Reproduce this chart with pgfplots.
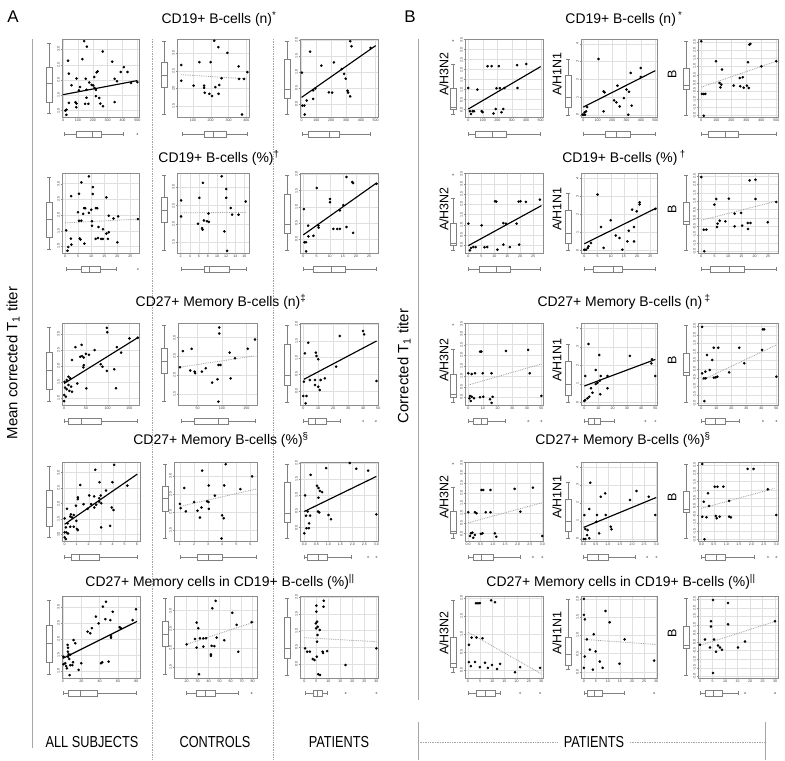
\documentclass[border=0pt]{standalone}
\usepackage{pgfplots}
\pgfplotsset{compat=1.18}
\usepgfplotslibrary{statistics}
\usepackage{fontspec}
\setmainfont{Liberation Sans}
\newfontfamily\narrowfont[FakeStretch=0.8]{Liberation Sans}
\definecolor{fr}{gray}{0.55}
\definecolor{gr}{gray}{0.88}
\definecolor{bxc}{gray}{0.5}
\pgfplotsset{
  q/.style n args={5}{/pgfplots/boxplot/lower whisker=#1,/pgfplots/boxplot/lower quartile=#2,/pgfplots/boxplot/median=#3,/pgfplots/boxplot/upper quartile=#4,/pgfplots/boxplot/upper whisker=#5},
  panel/.style={scale only axis, anchor=north west, axis line style={fr,line width=.45pt},
    grid=major, grid style={gr,line width=.35pt}, tick style={fr,line width=.3pt},
    major tick length=1.3bp, tick align=outside, xtick pos=bottom, ytick pos=left,
    tick label style={font=\fontsize{3.6}{4}\selectfont, text=black!75, inner sep=0.8bp},
    yticklabel style={rotate=90, anchor=south},
    scaled ticks=false,
    yticklabel={\pgfmathprintnumber[fixed,fixed zerofill,precision=1,assume math mode=true]{\tick}},
    xticklabel={\pgfmathprintnumber[fixed,assume math mode=true]{\tick}}},
  dx/.style={xticklabel={\pgfmathprintnumber[fixed,fixed zerofill,precision=1,assume math mode=true]{\tick}}},
  iy/.style={yticklabel={\pgfmathprintnumber[fixed,precision=0,assume math mode=true]{\tick}}},
  vbp/.style={scale only axis, anchor=north, width=7bp, xmin=-0.5, xmax=0.5, hide axis, clip=false},
  hbp/.style={scale only axis, anchor=west, height=7bp, ymin=-0.5, ymax=0.5, hide axis, clip=false},
  bx/.style={draw=bxc, fill=white, line width=.4pt, mark=o, mark size=0.8bp, mark options={bxc,line width=.3pt}},
  pts/.style={only marks, mark=*, mark size=1.1bp, black},
  fit/.style={black, line width=1.15bp},
  nfit/.style={gray!75, densely dotted, line width=.8bp},
}
\newcommand\VB[7]{\begin{axis}[vbp,at={(#1bp,-#2bp)},height=#3bp,ymin=#4,ymax=#5]
\addplot[bx,boxplot prepared={draw direction=y,draw position=0,box extend=0.8,whisker extend=0.45,/pgfplots/q=#6}] coordinates {#7};
\end{axis}}
\newcommand\HB[7]{\begin{axis}[hbp,at={(#1bp,-#2bp)},width=#3bp,xmin=#4,xmax=#5]
\addplot[bx,boxplot prepared={draw direction=x,draw position=0,box extend=0.8,whisker extend=0.45,/pgfplots/q=#6}] coordinates {#7};
\end{axis}}
\tikzset{ttl/.style={font=\fontsize{14}{14}\selectfont, inner sep=0pt},
  yl/.style={font=\fontsize{12.5}{12.5}\selectfont, rotate=90, inner sep=0pt},
  bl/.style={font=\narrowfont\fontsize{16}{16}\selectfont, inner sep=0pt}}
\begin{document}
\begin{tikzpicture}
\fill[white] (0,0) rectangle (785bp,-761bp);
\path[use as bounding box] (0,0) rectangle (785bp,-761bp);
% ---------- frame texts and separators ----------
\node[font=\fontsize{17}{17}\selectfont, inner sep=0pt] at (13bp,-17bp) {A};
\node[font=\fontsize{17}{17}\selectfont, inner sep=0pt] at (410bp,-17bp) {B};
\node[font=\fontsize{15}{15}\selectfont, rotate=90, inner sep=0pt] at (13bp,-363bp) {Mean corrected T\textsubscript{1} titer};
\node[font=\fontsize{15}{15}\selectfont, rotate=90, inner sep=0pt] at (404bp,-366bp) {Corrected T\textsubscript{1} titer};
\draw[gray!70, line width=.8pt] (32bp,-39bp) -- (32bp,-748bp);
\draw[gray!70, densely dotted, line width=.7pt] (152bp,-39bp) -- (152bp,-760bp);
\draw[gray!70, densely dotted, line width=.7pt] (273bp,-39bp) -- (273bp,-760bp);
\draw[gray!70, line width=.8pt] (418bp,-39bp) -- (418bp,-700bp);
\draw[gray!70, line width=.8pt] (418bp,-722bp) -- (418bp,-760bp);
\draw[gray!70, line width=.8pt] (765bp,-722bp) -- (765bp,-760bp);
\draw[gray!70, densely dotted, line width=.7pt] (418bp,-742bp) -- (558bp,-742bp);
\draw[gray!70, densely dotted, line width=.7pt] (630bp,-742bp) -- (765bp,-742bp);
\node[bl] at (92bp,-742bp) {ALL SUBJECTS};
\node[bl] at (215bp,-742bp) {CONTROLS};
\node[bl] at (339bp,-742bp) {PATIENTS};
\node[bl] at (594bp,-742bp) {PATIENTS};
% titles
\node[ttl] at (219bp,-19bp) {CD19+ B-cells (n)\textsuperscript{*}};
\node[ttl] at (624bp,-19bp) {CD19+ B-cells (n)\,\textsuperscript{*}};
\node[ttl] at (219bp,-158bp) {CD19+ B-cells (\%)\textsuperscript{†}};
\node[ttl] at (624bp,-158bp) {CD19+ B-cells (\%)\,\textsuperscript{†}};
\node[ttl] at (221bp,-302bp) {CD27+ Memory B-cells (n)\textsuperscript{‡}};
\node[ttl] at (624bp,-302bp) {CD27+ Memory B-cells (n)\,\textsuperscript{‡}};
\node[ttl] at (221bp,-440bp) {CD27+ Memory B-cells (\%)\textsuperscript{§}};
\node[ttl] at (623bp,-440bp) {CD27+ Memory B-cells (\%)\textsuperscript{§}};
\node[ttl] at (220bp,-582bp) {CD27+ Memory cells in CD19+ B-cells (\%)\textsuperscript{||}};
\node[ttl] at (621bp,-582bp) {CD27+ Memory cells in CD19+ B-cells (\%)\textsuperscript{||}};
% B y labels
\foreach \yy in {74,209,360,497,633} {
  \node[yl] at (444bp,-\yy bp) {A/H3N2};
  \node[yl] at (557bp,-\yy bp) {A/H1N1};
  \node[yl] at (672bp,-\yy bp) {B};
}
% ================= ROW 1 =================
\begin{axis}[panel, at={(62bp,-39bp)}, width=77bp, height=78bp, xmin=-7, xmax=511, ymin=0.79, ymax=3.34, xtick={0,100,...,500}, ytick={1,1.5,...,3}]
\addplot[pts] coordinates {(142,3.27)(160,3.09)(267,2.93)(34,2.63)(130,2.68)(331,2.60)(409,2.42)(233,2.28)(39,2.21)(91,2.05)(153,2.04)(210,2.10)(226,2.25)(347,2.04)(363,1.96)(388,2.26)(434,2.26)(500,1.93)(457,1.90)(57,1.83)(114,1.77)(176,1.92)(192,1.84)(203,1.82)(212,1.74)(221,1.68)(158,1.68)(221,1.47)(244,1.41)(251,1.23)(269,1.14)(148,1.22)(171,1.22)(84,1.27)(91,1.23)(89,1.11)(39,1.25)(23,1.03)(16,1.00)(23,0.86)(347,1.28)(158,1.42)(107,1.66)};
\addplot[fit] coordinates {(0,1.52)(500,1.98)};
\end{axis}
\VB{49}{39}{78}{0.79}{3.34}{{0.9}{1.28}{1.88}{2.42}{3.2}}{}
\HB{62}{134}{77}{-7}{511}{{5}{91}{199}{256}{404}}{(0,500)}
\begin{axis}[panel, at={(177bp,-39bp)}, width=72bp, height=78bp, xmin=11, xmax=415, ymin=1.2, ymax=3.39, xtick={100,200,300,400}, ytick={1.5,2,2.5,3}]
\addplot[pts] coordinates {(220,3.34)(243,3.16)(294,3.00)(137,2.74)(200,2.74)(35,2.66)(357,2.62)(406,2.46)(35,2.22)(261,2.29)(359,2.27)(387,2.27)(248,2.10)(104,2.08)(163,2.08)(163,2.02)(226,2.04)(167,1.88)(193,1.85)(244,1.85)(207,1.79)(376,1.27)};
\addplot[nfit] coordinates {(35,2.39)(406,2.27)};
\end{axis}
\VB{164}{39}{78}{1.2}{3.39}{{1.29}{2.04}{2.38}{2.73}{3.32}}{}
\HB{177}{134}{72}{11}{415}{{39}{163}{215}{289}{406}}{}
\begin{axis}[panel, at={(300bp,-39bp)}, width=78bp, height=78bp, xmin=-11, xmax=516, ymin=-0.42, ymax=2.04, xtick={0,100,...,500}, ytick={0,0.5,...,2}]
\addplot[pts] coordinates {(328,1.97)(337,1.81)(466,1.76)(57,1.64)(218,1.30)(133,1.20)(271,1.09)(287,0.94)(298,0.79)(2,0.98)(92,0.48)(78,0.42)(184,0.36)(206,0.35)(310,0.41)(314,0.35)(328,0.23)(78,0.15)(34,0.10)(18,-0.06)(5,-0.06)(21,-0.34)};
\addplot[fit] coordinates {(0,0.20)(500,1.83)};
\end{axis}
\VB{287}{39}{78}{-0.42}{2.04}{{-0.34}{0.18}{0.46}{1.40}{1.97}}{}
\HB{300}{134}{78}{-11}{516}{{2}{46}{184}{252}{466}}{}
% B row 1
\begin{axis}[panel, at={(465bp,-39bp)}, width=78bp, height=78bp, xmin=-23, xmax=516, ymin=-0.37, ymax=3.53, xtick={0,100,...,500}, ytick={0,0.5,...,3.5}]
\addplot[pts] coordinates {(133,2.17)(161,2.17)(211,2.17)(337,2.22)(401,2.28)(0,1.08)(62,1.00)(195,1.07)(218,1.07)(250,1.08)(340,1.08)(11,-0.08)(18,-0.22)(30,-0.08)(39,-0.08)(92,-0.08)(99,-0.13)(190,0.03)(174,-0.20)(241,0.03)(229,-0.13)};
\addplot[fit] coordinates {(0,0.03)(500,2.15)};
\end{axis}
\VB{453}{39}{78}{-0.37}{3.53}{{-0.22}{0}{0.13}{1.08}{2.28}}{(0,3.45)}
\HB{465}{134}{78}{-23}{516}{{0}{46}{168}{259}{500}}{}
\begin{axis}[panel, iy, at={(581bp,-39bp)}, width=76bp, height=78bp, xmin=-16, xmax=512, ymin=-0.13, ymax=4.28, xtick={0,100,...,500}, ytick={0,1,...,4}]
\addplot[pts] coordinates {(106,3.15)(329,2.36)(399,2.64)(399,2.13)(237,1.64)(141,1.32)(148,1.26)(300,1.42)(317,1.30)(282,0.94)(214,0.81)(230,0.70)(253,0.47)(336,0.51)(26,0.43)(9,0.13)(-5,0)(2,0)(12,0)(19,0.19)(141,0.19)(312,0)};
\addplot[fit] coordinates {(0,0.43)(500,2.49)};
\end{axis}
\VB{568}{39}{78}{-0.13}{4.28}{{0}{0.42}{0.98}{2.21}{3.15}}{}
\HB{581}{134}{76}{-16}{512}{{0}{155}{230}{324}{500}}{}
\begin{axis}[panel, at={(698bp,-39bp)}, width=80bp, height=78bp, xmin=-22, xmax=511, ymin=-2.09, ymax=2.68, xtick={0,100,...,500}, ytick={-2,-1.5,...,2.5}]
\addplot[pts] coordinates {(0,2.54)(98,1.32)(138,0.81)(327,2.38)(320,2.34)(311,1.26)(400,1.01)(500,1.32)(256,0.30)(276,0.34)(122,-0.01)(133,-0.11)(4,-0.68)(16,-0.68)(27,-0.68)(127,-0.28)(216,-0.17)(260,-0.21)(304,-0.17)(316,-0.32)(282,-0.30)(16,-2.01)};
\addplot[nfit] coordinates {(0,-0.26)(500,1.32)};
\end{axis}
\VB{686}{39}{78}{-2.09}{2.68}{{-1.95}{-0.38}{-0.17}{0.91}{2.54}}{}
\HB{698}{134}{80}{-22}{511}{{0}{49}{160}{249}{500}}{}
% ================= ROW 2 =================
\begin{axis}[panel, at={(62bp,-173bp)}, width=77bp, height=80bp, xmin=-1.2, xmax=28.3, ymin=0.79, ymax=3.34, xtick={0,5,...,25}, ytick={1,1.5,...,3}]
\addplot[pts] coordinates {(9.1,3.23)(6.2,3.04)(10.6,2.89)(2.3,2.60)(15.8,2.56)(10.6,2.67)(5.3,2.68)(7.3,2.22)(7.7,2.22)(6.9,2.04)(12.3,2.22)(11.8,2.22)(10.0,2.17)(4.9,2.09)(10.3,1.80)(10.3,1.66)(5.3,1.82)(6.2,1.82)(20.3,1.96)(18.5,1.89)(16.7,1.98)(27.9,1.87)(0.4,1.51)(14.5,1.55)(15.8,1.41)(16.7,1.45)(12.6,1.27)(13.8,1.24)(14.5,1.24)(11.7,1.24)(16.4,1.24)(20.0,1.13)(5.6,1.25)(5.9,1.22)(7.4,1.09)(2.2,1.25)(2.4,1.06)(1.2,0.98)(0.9,0.86)(9.1,2.07)(12.8,1.62)};
\addplot[nfit] coordinates {(0,1.75)(28,1.87)};
\end{axis}
\VB{49}{173}{80}{0.79}{3.34}{{0.9}{1.28}{1.88}{2.42}{3.2}}{}
\HB{62}{269}{77}{-1.2}{28.3}{{0.4}{6.2}{9.4}{13.6}{19.6}}{(0,27.9)}
\begin{axis}[panel, at={(177bp,-173bp)}, width=72bp, height=80bp, xmin=1.2, xmax=17, ymin=1.2, ymax=3.39, xtick={2,4,...,16}, ytick={1.5,2,2.5,3}]
\addplot[pts] coordinates {(11.0,3.30)(6.9,3.12)(12.0,2.95)(6.1,2.71)(12.0,2.71)(2.1,2.64)(16.3,2.61)(13.0,2.43)(2.1,2.20)(8.1,2.28)(13.3,2.25)(14.7,2.25)(7.1,2.09)(7.8,2.07)(8.2,2.05)(5.8,2.00)(6.7,1.88)(6.8,1.84)(11.6,1.79)(12.2,1.26)};
\addplot[nfit] coordinates {(2,2.30)(16.5,2.31)};
\end{axis}
\VB{164}{173}{80}{1.2}{3.39}{{1.29}{2.04}{2.38}{2.73}{3.32}}{}
\HB{177}{269}{72}{1.2}{17}{{2.1}{7.1}{8.2}{12.6}{16.3}}{}
\begin{axis}[panel, at={(300bp,-173bp)}, width=78bp, height=80bp, xmin=-1.3, xmax=28.4, ymin=-0.42, ymax=2.04, xtick={0,5,...,25}, ytick={0,0.5,...,2}]
\addplot[pts] coordinates {(16.4,1.92)(18.6,1.76)(18.9,1.73)(5.1,1.58)(27.8,1.71)(10.1,1.24)(10.1,1.14)(15.2,1.05)(13.9,0.89)(16.4,0.38)(11.4,0.32)(12.9,0.32)(13.9,0.32)(5.7,0.42)(5.8,0.36)(1.8,0.42)(0.2,0.93)(1.9,0.09)(3.8,0.11)(18.9,0.20)(0.4,-0.09)(1.0,-0.09)(1.0,-0.37)};
\addplot[fit] coordinates {(0,0.14)(27.8,1.73)};
\end{axis}
\VB{287}{173}{80}{-0.42}{2.04}{{-0.34}{0.18}{0.46}{1.40}{1.97}}{}
\HB{300}{269}{78}{-1.3}{28.4}{{0}{3.8}{10.7}{15.8}{27.8}}{}
\begin{axis}[panel, at={(465bp,-173bp)}, width=78bp, height=80bp, xmin=-1.3, xmax=28.8, ymin=-0.37, ymax=3.53, xtick={0,5,...,25}, ytick={0,0.5,...,3.5}]
\addplot[pts] coordinates {(10.3,2.15)(10.8,2.13)(19.4,2.13)(20.1,2.15)(22.2,2.12)(27.6,2.23)(0,1.06)(5.1,0.98)(13.5,1.09)(14.5,1.06)(18.6,1.06)(1.0,-0.13)(1.9,-0.08)(2.8,-0.08)(6.2,-0.09)(7.3,-0.08)(11.2,-0.21)(13.5,0.04)(16.0,-0.08)(19.6,0.04)(0.6,-0.24)};
\addplot[fit] coordinates {(0,-0.01)(28.2,1.94)};
\end{axis}
\VB{453}{173}{80}{-0.37}{3.53}{{-0.22}{0}{0.13}{1.08}{2.28}}{(0,3.45)}
\HB{465}{269}{78}{-1.3}{28.8}{{0}{4.1}{10.9}{16}{27.6}}{}
\begin{axis}[panel, iy, at={(581bp,-173bp)}, width=76bp, height=80bp, xmin=-1.25, xmax=27.5, ymin=-0.13, ymax=4.28, xtick={0,5,...,25}, ytick={0,1,...,4}]
\addplot[pts] coordinates {(5.0,3.09)(26.9,2.30)(18.1,2.26)(20.9,2.66)(20.9,2.55)(19.8,2.17)(10.0,1.67)(6.3,1.30)(11.9,0.83)(13.3,0.70)(16.8,1.10)(18.8,1.30)(18.8,0.51)(16.3,0.51)(1.3,0.15)(0.6,0.05)(0,0.05)(1.6,0.24)(2.5,0.42)(7.3,0.15)(14.4,0.05)};
\addplot[fit] coordinates {(0,0.38)(27.3,2.35)};
\end{axis}
\VB{568}{173}{80}{-0.13}{4.28}{{0}{0.42}{0.98}{2.21}{3.15}}{}
\HB{581}{269}{76}{-1.25}{27.5}{{0}{3.5}{10.9}{14.4}{26.9}}{}
\begin{axis}[panel, at={(698bp,-173bp)}, width=80bp, height=80bp, xmin=-1.25, xmax=28.75, ymin=-2.09, ymax=2.68, xtick={0,5,...,25}, ytick={-2,-1.5,...,2.5}]
\addplot[pts] coordinates {(0,2.44)(5.6,1.13)(18.1,2.24)(20.3,2.28)(20.3,1.13)(10.3,1.15)(28.1,0.95)(4.9,0.79)(12.5,0.26)(14.9,0.30)(17.4,-0.30)(18.4,-0.30)(15.3,-0.46)(24.9,-0.26)(12.5,-0.50)(9.0,-0.20)(6.9,-0.16)(6.1,-0.34)(5.9,-0.54)(0.9,-0.70)(1.9,-0.70)(17.5,-0.66)(1.1,-1.99)};
\addplot[nfit] coordinates {(0,-0.14)(28.1,1.0)};
\end{axis}
\VB{686}{173}{80}{-2.09}{2.68}{{-1.95}{-0.38}{-0.17}{0.91}{2.54}}{}
\HB{698}{269}{80}{-1.25}{28.75}{{0}{3.4}{10.6}{15.9}{28.1}}{}
% ================= ROW 3 =================
\begin{axis}[panel, at={(62bp,-323bp)}, width=77bp, height=82bp, xmin=-5, xmax=172, ymin=0.79, ymax=3.34, xtick={0,50,100,150}, ytick={1,1.5,...,3}]
\addplot[pts] coordinates {(98,3.19)(99,3.05)(40,2.66)(26,2.59)(150,2.86)(169,2.88)(121,2.59)(131,2.42)(70,2.50)(57,2.35)(18,2.19)(37,2.29)(41,2.31)(45,2.27)(50,2.38)(45,2.03)(44,1.96)(84,2.06)(88,1.98)(98,1.85)(115,1.90)(119,1.31)(1,1.51)(6,1.57)(10,1.67)(14,1.62)(10,1.41)(16,1.36)(2,1.33)(6,1.28)(12,1.23)(18,1.20)(0,1.10)(4,1.05)(0,0.91)(51,1.31)(30,1.46)};
\addplot[fit] coordinates {(0,1.46)(171,2.90)};
\end{axis}
\VB{49}{323}{82}{0.79}{3.34}{{0.9}{1.28}{1.88}{2.42}{3.2}}{}
\HB{62}{421}{77}{-5}{172}{{0}{10}{40}{84}{169}}{}
\begin{axis}[panel, at={(178bp,-323bp)}, width=79bp, height=82bp, xmin=10, xmax=172, ymin=1.2, ymax=3.39, xtick={50,100,150}, ytick={1.5,2,2.5,3}]
\addplot[pts] coordinates {(94.5,3.27)(94.5,3.11)(168,2.95)(20,2.64)(38,2.70)(116,2.60)(153,2.70)(127,2.45)(14,2.21)(35,2.12)(44,2.09)(45,2.05)(59,2.09)(67,2.18)(93,2.27)(97,2.27)(80,1.80)(91,1.89)(118,1.91)(93,1.29)};
\addplot[nfit] coordinates {(14,2.21)(166,2.51)};
\end{axis}
\VB{164}{323}{82}{1.2}{3.39}{{1.29}{2.04}{2.38}{2.73}{3.32}}{}
\HB{178}{421}{79}{10}{172}{{16}{44}{92}{112}{168}}{}
\begin{axis}[panel, at={(300bp,-323bp)}, width=78bp, height=82bp, xmin=-2.2, xmax=50, ymin=-0.42, ymax=2.04, xtick={0,10,...,50}, ytick={0,0.5,...,2}]
\addplot[pts] coordinates {(40,1.80)(40.7,1.70)(24.4,1.65)(3.3,1.45)(1.1,1.13)(8.4,1.15)(8.9,1.05)(10,0.95)(22,0.73)(49,0.30)(4.4,0.33)(7.8,0.33)(11.6,0.33)(14.4,0.38)(0.4,0.28)(10,0.13)(11,0.03)(0,-0.15)(2.2,-0.15)(1.6,-0.37)(7.8,0.18)};
\addplot[fit] coordinates {(0.4,0.35)(49,1.50)};
\end{axis}
\VB{287}{323}{82}{-0.42}{2.04}{{-0.34}{0.18}{0.46}{1.40}{1.97}}{}
\HB{300}{421}{78}{-2.2}{50}{{0}{3.3}{7.8}{15.6}{24.4}}{(0,40)(0,48.5)}
\begin{axis}[panel, at={(465bp,-323bp)}, width=78bp, height=82bp, xmin=-2.3, xmax=51.1, ymin=-0.37, ymax=3.53, xtick={0,10,...,50}, ytick={0,0.5,...,3.5}]
\addplot[pts] coordinates {(8.0,2.17)(8.9,2.17)(25.7,2.20)(40.9,2.25)(0,1.14)(2.3,1.10)(4.5,1.14)(9.8,1.14)(15.9,1.14)(42.0,1.14)(1.1,0.06)(2.3,0.02)(3.9,-0.05)(0.7,-0.05)(8.0,0.0)(10.2,0.02)(14.8,-0.10)(16.6,0.02)(50,0.06)(1.6,-0.18)(15.9,-0.27)};
\addplot[nfit] coordinates {(0,0.58)(50,1.58)};
\end{axis}
\VB{453}{323}{82}{-0.37}{3.53}{{-0.22}{0}{0.13}{1.08}{2.28}}{(0,3.45)}
\HB{465}{421}{78}{-2.3}{51.1}{{0}{3}{8.6}{13}{25}}{(0,41)(0,50)}
\begin{axis}[panel, iy, at={(581bp,-323bp)}, width=76bp, height=82bp, xmin=-2.3, xmax=51.2, ymin=-0.13, ymax=4.28, xtick={0,10,...,50}, ytick={0,1,...,4}]
\addplot[pts] coordinates {(3.0,3.15)(10.5,2.56)(32.1,2.51)(47.7,2.33)(47.2,2.11)(8.1,1.75)(11.6,1.43)(10.9,1.18)(16.3,1.43)(0.7,1.43)(50,1.43)(9.3,1.07)(8.1,1.00)(16.3,0.77)(4.7,0.77)(11.2,0.45)(5.8,0.53)(3.5,0.32)(2.3,0.23)(0.7,0.14)(0,0.09)};
\addplot[fit] coordinates {(0,0.89)(50,2.32)};
\end{axis}
\VB{568}{323}{82}{-0.13}{4.28}{{0}{0.42}{0.98}{2.21}{3.15}}{}
\HB{581}{421}{76}{-2.3}{51.2}{{0}{2.8}{7}{10.9}{21}}{(0,43)(0,50)}
\begin{axis}[panel, at={(698bp,-323bp)}, width=80bp, height=82bp, xmin=-2.25, xmax=51.1, ymin=-2.09, ymax=2.68, xtick={0,10,...,50}, ytick={-2,-1.5,...,2.5}]
\addplot[pts] coordinates {(0.5,2.46)(41,2.31)(41.9,2.31)(8.3,1.24)(11.3,1.24)(25.2,1.24)(40.5,1.11)(3.8,0.82)(7.2,0.53)(5.6,-0.05)(2.7,-0.15)(0.5,-0.25)(10.6,-0.44)(9.5,-0.48)(8.3,-0.50)(18.5,-0.19)(28.6,0.34)(1.6,-0.54)(2.9,-0.54)(50,-0.44)(2.0,-1.86)};
\addplot[nfit] coordinates {(0.5,-0.64)(50,1.40)};
\end{axis}
\VB{686}{323}{82}{-2.09}{2.68}{{-1.95}{-0.38}{-0.17}{0.91}{2.54}}{}
\HB{698}{421}{80}{-2.25}{51.1}{{0}{2.7}{9.5}{16.2}{25}}{(0,41)(0,50)}
% ================= ROW 4 =================
\begin{axis}[panel, at={(62bp,-462bp)}, width=78bp, height=79bp, xmin=-0.22, xmax=6.27, ymin=0.79, ymax=3.34, xtick={0,...,6}, ytick={1,1.5,...,3}]
\addplot[pts] coordinates {(4.12,3.25)(2.54,3.09)(2.90,2.69)(3.98,2.69)(1.30,2.60)(5.22,2.58)(3.45,2.42)(2.04,2.26)(3.01,2.26)(2.87,2.17)(1.10,2.20)(1.10,2.14)(2.46,2.23)(1.57,1.98)(0.94,1.93)(2.21,1.98)(2.87,2.06)(2.62,1.96)(3.04,2.01)(3.92,1.87)(4.06,1.79)(2.46,1.87)(1.91,1.83)(0.19,1.83)(0.47,1.58)(0.52,1.65)(0.75,1.63)(0.61,1.55)(0,1.52)(0.97,1.44)(0.47,1.25)(0.11,1.23)(0.75,1.25)(1.02,1.18)(1.10,1.14)(0,1.07)(0.14,1.07)(0.28,1.03)(3.04,1.23)(3.78,1.28)(0,0.91)(0.11,0.85)(0.25,1.36)};
\addplot[fit] coordinates {(0,1.33)(6.05,2.95)};
\end{axis}
\VB{49}{462}{79}{0.79}{3.34}{{0.9}{1.28}{1.88}{2.42}{3.2}}{}
\HB{62}{557}{78}{-0.22}{6.27}{{0}{0.55}{1.24}{2.9}{6.0}}{}
\begin{axis}[panel, at={(174bp,-462bp)}, width=83bp, height=79bp, xmin=0.58, xmax=6.47, ymin=1.2, ymax=3.39, xtick={1,...,6}, ytick={1.5,2,2.5,3}]
\addplot[pts] coordinates {(4.25,3.33)(2.58,3.15)(6.12,2.99)(3.05,2.74)(4.14,2.74)(5.29,2.64)(3.48,2.46)(1.31,2.67)(1.0,2.23)(1.05,2.11)(2.01,2.28)(1.42,2.02)(2.53,2.13)(2.25,2.04)(2.93,2.30)(3.03,2.28)(3.05,2.09)(2.42,1.85)(3.99,1.91)(4.11,1.83)(3.95,1.27)};
\addplot[nfit] coordinates {(1,2.16)(6.42,2.64)};
\end{axis}
\VB{165}{462}{79}{1.2}{3.39}{{1.29}{2.04}{2.38}{2.73}{3.32}}{}
\HB{174}{557}{83}{0.58}{6.47}{{1.05}{2.25}{3.0}{4.02}{6.42}}{}
\begin{axis}[panel, dx, at={(300bp,-462bp)}, width=78bp, height=79bp, xmin=-0.18, xmax=3.07, ymin=-0.42, ymax=2.04, xtick={0,0.5,...,3}, ytick={0,0.5,...,2}]
\addplot[pts] coordinates {(1.89,2.01)(2.16,1.83)(2.66,1.77)(0.91,1.85)(0.26,1.64)(0.53,1.30)(0.59,1.23)(0.65,1.14)(0.74,1.10)(0.59,0.93)(0.03,1.00)(0.57,0.50)(0.62,0.47)(0.14,0.50)(0.24,0.37)(0.07,0.37)(0.20,0.13)(0.09,-0.02)(0.19,-0.02)(0,-0.18)(1.01,0.39)(1.11,0.26)(3.0,0.41)};
\addplot[fit] coordinates {(0,0.50)(3,1.59)};
\end{axis}
\VB{287}{462}{79}{-0.42}{2.04}{{-0.34}{0.18}{0.46}{1.40}{1.97}}{}
\HB{300}{557}{78}{-0.18}{3.07}{{0}{0.14}{0.57}{0.95}{1.95}}{(0,2.66)(0,3.0)}
\begin{axis}[panel, dx, at={(465bp,-462bp)}, width=78bp, height=79bp, xmin=-0.13, xmax=3.03, ymin=-0.37, ymax=3.53, xtick={0,0.5,...,3}, ytick={0,0.5,...,3.5}]
\addplot[pts] coordinates {(0.54,2.15)(0.61,2.15)(0.90,2.15)(1.88,2.20)(2.62,2.26)(0,1.05)(0.27,1.05)(0.34,1.00)(0.71,1.05)(0.90,1.05)(2.11,1.08)(0.11,0.01)(0.17,0.04)(0.27,-0.07)(0.51,-0.02)(0.58,0.01)(0.20,-0.21)(1.08,0.01)(1.14,-0.16)(3.0,-0.12)(0.07,-0.12)};
\addplot[nfit] coordinates {(0,0.53)(3.0,1.52)};
\end{axis}
\VB{453}{462}{79}{-0.37}{3.53}{{-0.22}{0}{0.13}{1.08}{2.28}}{(0,3.45)}
\HB{465}{557}{78}{-0.13}{3.03}{{0}{0.2}{0.54}{1.0}{2.1}}{(0,2.62)(0,3.0)}
\begin{axis}[panel, dx, iy, at={(581bp,-462bp)}, width=76bp, height=79bp, xmin=-0.11, xmax=3.03, ymin=-0.13, ymax=4.28, xtick={0,0.5,...,3}, ytick={0,1,...,4}]
\addplot[pts] coordinates {(0.27,3.12)(0.71,2.34)(0.89,2.53)(2.18,2.66)(1.91,2.16)(2.69,2.34)(0.23,1.66)(0.03,1.32)(0.55,1.32)(0.91,1.32)(2.96,1.32)(0.07,0.54)(0.16,0.48)(0.14,0.20)(0.53,0.95)(0.64,0.30)(1.12,0.67)(1.15,0.52)(0.23,0.02)(0,-0.02)(0.07,-0.02)};
\addplot[fit] coordinates {(0,0.63)(3,2.30)};
\end{axis}
\VB{568}{462}{79}{-0.13}{4.28}{{0}{0.42}{0.98}{2.21}{3.15}}{}
\HB{581}{557}{76}{-0.11}{3.03}{{0}{0.16}{0.6}{1.01}{2.14}}{(0,2.62)(0,3.0)}
\begin{axis}[panel, dx, at={(698bp,-462bp)}, width=80bp, height=79bp, xmin=-0.14, xmax=3.07, ymin=-2.09, ymax=2.68, xtick={0,0.5,...,3}, ytick={-2,-1.5,...,2.5}]
\addplot[pts] coordinates {(0.03,2.56)(1.85,2.26)(2.09,2.26)(0.53,1.19)(0.64,1.19)(0.88,1.19)(2.66,1.03)(0.26,0.79)(1.11,0.33)(0.09,0.28)(0.30,0.02)(0.03,-0.62)(0.20,-0.66)(0.57,-0.58)(0.61,-0.72)(0.73,-0.62)(1.11,-0.62)(1.18,-0.66)(3.0,-0.52)(0.12,-1.99)};
\addplot[nfit] coordinates {(0,-0.12)(2.93,1.09)};
\end{axis}
\VB{686}{462}{79}{-2.09}{2.68}{{-1.95}{-0.38}{-0.17}{0.91}{2.54}}{}
\HB{698}{557}{80}{-0.14}{3.07}{{0}{0.16}{0.57}{0.97}{2.1}}{(0,2.66)(0,3.0)}
% ================= ROW 5 =================
\begin{axis}[panel, at={(62bp,-596bp)}, width=78bp, height=82bp, xmin=-1, xmax=84, ymin=0.79, ymax=3.34, xtick={0,20,...,80}, ytick={1,1.5,...,3}]
\addplot[pts] coordinates {(46.9,3.16)(43.6,3.01)(54.2,2.85)(36,2.70)(38.9,2.49)(26.9,2.23)(29.8,2.18)(46.2,2.62)(51.6,2.59)(61.8,2.37)(79.6,2.93)(76,2.59)(63.3,2.34)(31.6,2.34)(11.6,1.97)(5.1,1.82)(5.5,1.73)(5.5,1.61)(6.2,1.53)(2.5,1.25)(0.7,1.22)(3.6,1.16)(4.4,1.09)(8.0,1.19)(10.2,1.19)(10.9,1.28)(5.5,1.45)(6.9,1.38)(8.0,1.51)(13.5,1.87)(20,1.25)(17.1,1.04)(7.3,0.88)(49.8,1.30)(41.5,1.25)(42.9,1.28)(52.4,2.04)(52.4,2.10)(0.7,1.45)};
\addplot[fit] coordinates {(0,1.40)(80.7,2.55)};
\end{axis}
\VB{49}{596}{82}{0.79}{3.34}{{0.9}{1.28}{1.88}{2.42}{3.2}}{}
\HB{62}{693}{78}{-1}{84}{{0.7}{5.8}{18.9}{37.5}{79.6}}{}
\begin{axis}[panel, at={(174bp,-596bp)}, width=83bp, height=82bp, xmin=8.5, xmax=84, ymin=1.2, ymax=3.39, xtick={20,30,...,80}, ytick={1.5,2,2.5,3}]
\addplot[pts] coordinates {(46.4,3.26)(43.3,3.06)(61.5,2.94)(29.1,2.68)(30.6,2.53)(79.1,2.69)(65.5,2.62)(35.2,2.26)(37.6,2.26)(32.1,2.26)(27.6,2.24)(47.3,2.28)(54.2,2.21)(42.7,2.06)(45.2,2.05)(35.2,2.04)(20,2.10)(42.1,1.83)(42.1,1.79)(67,1.90)(29.1,2.01)(31.2,1.30)};
\addplot[nfit] coordinates {(20,2.10)(82,2.70)};
\end{axis}
\VB{165}{596}{82}{1.2}{3.39}{{1.29}{2.04}{2.38}{2.73}{3.32}}{}
\HB{174}{693}{83}{8.5}{84}{{20}{29}{37}{46}{67}}{(0,79.1)}
\begin{axis}[panel, at={(300bp,-596bp)}, width=78bp, height=82bp, xmin=-1.8, xmax=30.7, ymin=-0.42, ymax=2.04, xtick={0,5,...,30}, ytick={0,0.5,...,2}]
\addplot[pts] coordinates {(8.1,1.90)(8.0,1.72)(5.0,1.75)(5.0,1.57)(5.3,1.27)(4.8,1.22)(4.9,1.07)(5.6,1.12)(6.4,1.02)(5.5,0.87)(5.3,0.67)(7.6,0.37)(7.8,0.33)(0.3,0.47)(1.2,0.37)(2.3,0.37)(3.5,0.15)(4.2,0.12)(5.2,0.22)(5.8,-0.31)(6.5,-0.33)(30,0.47)(17.2,-0.03)(9.5,0.39)};
\addplot[nfit] coordinates {(0,0.79)(30,0.67)};
\end{axis}
\VB{287}{596}{82}{-0.42}{2.04}{{-0.34}{0.18}{0.46}{1.40}{1.97}}{}
\HB{300}{693}{78}{-1.8}{30.7}{{0.3}{3.8}{5.3}{7.6}{9.5}}{(0,17.2)(0,30)}
\begin{axis}[panel, at={(465bp,-596bp)}, width=78bp, height=82bp, xmin=-1.2, xmax=30.8, ymin=-0.22, ymax=2.05, xtick={0,5,...,30}, ytick={0,0.5,...,2}]
\addplot[pts] coordinates {(3.3,1.85)(4.1,1.85)(4.9,1.85)(9.5,1.93)(11.1,1.88)(0.4,0.22)(1.2,0.11)(2.9,0.22)(4.9,0.08)(7,0.2)(8.2,0.06)(9.9,0.14)(11.9,0.03)(13.2,0.17)(19.3,-0.06)(21.4,0.08)(29.6,0.06)(0.4,0.7)(1.5,0.9)(3.5,0.9)(6,0.88)};
\addplot[nfit] coordinates {(0,1.05)(30,-0.1)};
\end{axis}
\VB{453}{596}{82}{-0.22}{2.05}{{-0.06}{0.08}{0.2}{0.9}{1.93}}{}
\HB{465}{693}{78}{-1.2}{30.8}{{0}{3.5}{7}{11}{13.2}}{(0,21.4)(0,29.6)}
\begin{axis}[panel, at={(581bp,-596bp)}, width=76bp, height=82bp, xmin=-1.2, xmax=30.4, ymin=-0.17, ymax=2.08, xtick={0,5,...,30}, ytick={0,0.5,...,2}]
\addplot[pts] coordinates {(0,2.0)(0,1.56)(0.4,1.44)(9,1.67)(10.7,1.36)(1.2,0.89)(2.5,0.61)(4.9,0.56)(0.4,0.42)(6.6,0.28)(7.8,0.11)(3.7,0.06)(0,0.11)(16.9,0.89)(14.8,0.22)(29.2,0.31)(4.1,1.03)};
\addplot[nfit] coordinates {(0,0.89)(30,0.75)};
\end{axis}
\VB{568}{596}{82}{-0.17}{2.08}{{0.06}{0.19}{0.47}{0.94}{2.0}}{}
\HB{581}{693}{76}{-1.2}{30.4}{{0}{1.2}{4.1}{7.8}{16.9}}{(0,29.2)}
\begin{axis}[panel, at={(698bp,-596bp)}, width=80bp, height=82bp, xmin=-0.8, xmax=31.2, ymin=-2.09, ymax=2.68, xtick={0,5,...,30}, ytick={-2,-1.5,...,2.5}]
\addplot[pts] coordinates {(5.2,2.45)(11.2,2.27)(4.4,1.21)(4.4,0.91)(11.2,1.03)(30,1.21)(2,0.15)(5.6,0.15)(7.2,-0.2)(8,-0.32)(6.4,-0.56)(8.8,-0.44)(15.2,-0.32)(18,0.03)(0,-0.15)(5.2,-1.80)(4,-0.32)};
\addplot[nfit] coordinates {(0,-0.2)(30,1.2)};
\end{axis}
\VB{686}{596}{82}{-2.09}{2.68}{{-1.95}{-0.38}{-0.17}{0.91}{2.54}}{}
\HB{698}{693}{80}{-0.8}{31.2}{{0}{2}{5.2}{8.8}{15.2}}{(0,18)(0,30)}
\end{tikzpicture}
\end{document}
